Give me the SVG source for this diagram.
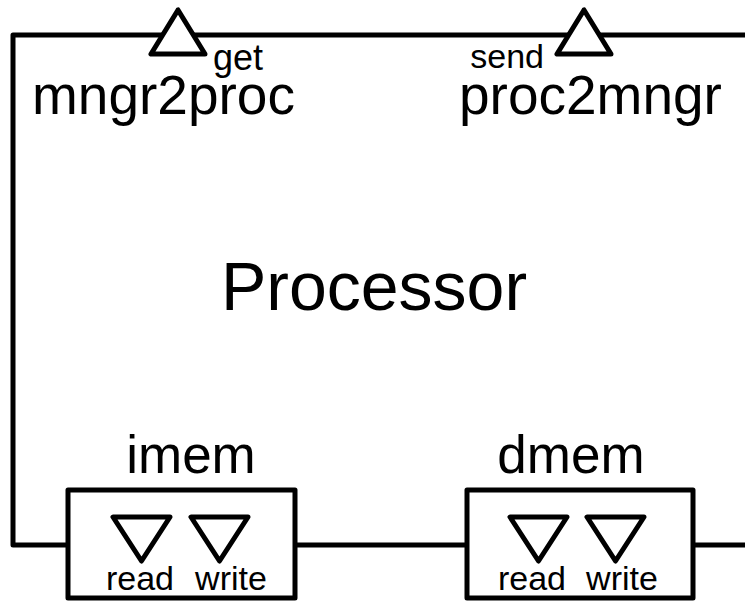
<svg xmlns="http://www.w3.org/2000/svg" width="745" height="603" viewBox="0 0 745 603">
<style>
.ln{fill:none;stroke:#000;stroke-width:5;stroke-linejoin:round;stroke-linecap:round}
.box{fill:#fff;stroke:#000;stroke-width:5;stroke-linejoin:round}
.tri{fill:#fff;stroke:#000;stroke-width:5;stroke-linejoin:round}
text{font-family:"Liberation Sans",Arial,sans-serif;fill:#000}
.big{font-size:68px}
.mid{font-size:55px}
.lbl{font-size:53px}
.sm{font-size:34px}
.get{font-size:36px}
</style>
<rect width="745" height="603" fill="#fff"/>
<g id="connectors">
<path class="ln" d="M745,35 H13 V545 H68"/>
<path class="ln" d="M295,545 H467"/>
<path class="ln" d="M693,545 H745"/>
</g>
<g id="processor">
<text class="big" x="374" y="310" text-anchor="middle">Processor</text>
</g>
<g id="mngr2proc">
<polygon class="tri" points="178,10 151,54 205,54"/>
<text class="get" x="213" y="70">get</text>
<text class="mid" x="32" y="114">mngr2proc</text>
</g>
<g id="proc2mngr">
<polygon class="tri" points="584,10 557,54 611,54"/>
<text class="sm" x="544" y="68" text-anchor="end">send</text>
<text class="mid" x="459" y="114">proc2mngr</text>
</g>
<g id="imem">
<text class="lbl" x="191" y="473" text-anchor="middle">imem</text>
<rect class="box" x="68" y="490" width="227" height="108"/>
<polygon class="tri" points="113,517 170,517 141.5,561"/>
<polygon class="tri" points="191,517 248,517 219.5,561"/>
<text class="sm" x="140" y="590" text-anchor="middle">read</text>
<text class="sm" x="231" y="590" text-anchor="middle">write</text>
</g>
<g id="dmem">
<text class="lbl" x="571" y="473" text-anchor="middle">dmem</text>
<rect class="box" x="467" y="490" width="226" height="108"/>
<polygon class="tri" points="510,517 567,517 538.5,561"/>
<polygon class="tri" points="587,517 644,517 615.5,561"/>
<text class="sm" x="532" y="590" text-anchor="middle">read</text>
<text class="sm" x="622" y="590" text-anchor="middle">write</text>
</g>
</svg>
